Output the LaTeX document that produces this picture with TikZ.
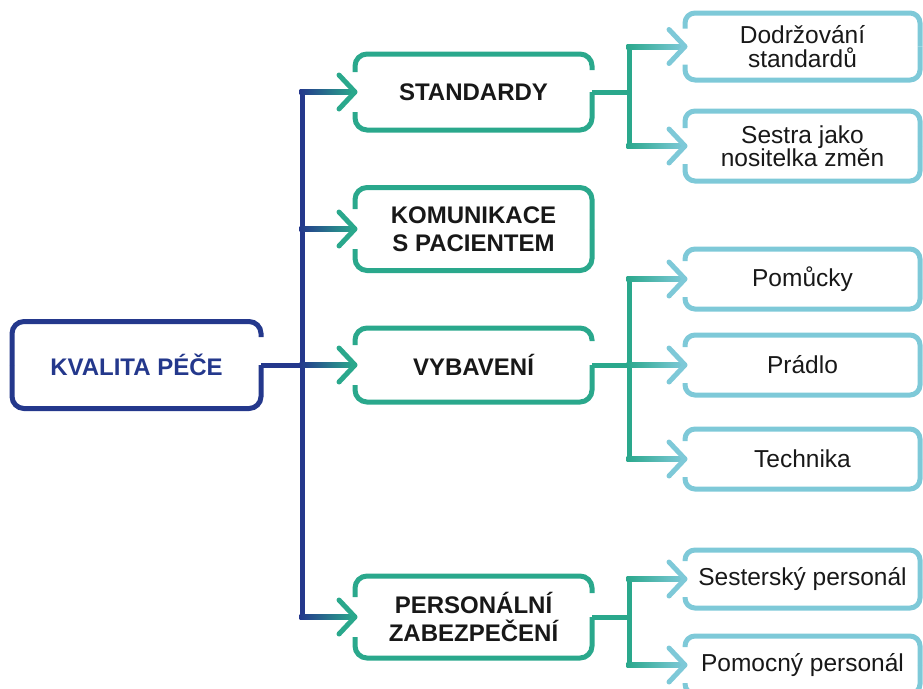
\documentclass[tikz,border=0pt]{standalone}
\usepackage{fontspec}
\setmainfont{Liberation Sans}
\usetikzlibrary{calc}

\definecolor{kqnavy}{RGB}{36,56,140}
\definecolor{kqgreen}{RGB}{42,168,140}
\definecolor{kqlight}{RGB}{126,201,216}
\definecolor{kqtext}{RGB}{24,24,24}

\tikzset{
  boxbase/.style={draw=none, outer sep=0pt, inner sep=0pt, align=center},
  rootbox/.style={boxbase, minimum width=249pt, minimum height=87pt,
    text=kqnavy, font=\fontsize{24}{28}\selectfont\bfseries},
  midbox/.style={boxbase, minimum width=237pt,
    text=kqtext, font=\fontsize{24}{28}\selectfont\bfseries},
  leafbox/.style={boxbase, minimum width=235pt,
    text=kqtext, font=\fontsize{24.5}{23.5}\selectfont},
  rootline/.style={draw=kqnavy, line width=5pt, rounded corners=12pt},
  midline/.style={draw=kqgreen, line width=5pt, rounded corners=12pt},
  leafline/.style={draw=kqlight, line width=5pt, rounded corners=10pt},
  trunk/.style={line width=5pt, line cap=rect},
  chevron/.style={line width=5pt, line cap=round, line join=round},
}

% outline of a box: #1 style, #2 node, #3 half gap on the left side,
% #4 gap on the right side above the outgoing connector
\newcommand\gapbox[4]{%
  \draw[#1] ($(#2.west)+(0,-#3)$) -- (#2.north west) -- (#2.north east) -- ($(#2.east)+(0,-#4)$);
  \draw[#1] ($(#2.west)+(0,#3)$) -- (#2.south west) -- (#2.south east) -- (#2.east);
}
% open arrow head pointing at the west side of a node
\newcommand\chev[2]{%
  \draw[chevron, #1] ($(#2.west)+(-16,-17)$) -- (#2.west) -- ($(#2.west)+(-16,17)$);
}
% colour-blended horizontal stroke from a trunk to a node
\newcommand\blend[4]{%
  \shade[left color=#1, right color=#2] ($(#3 |- #4.west)+(-2.5,-2.5)$) rectangle ($(#4.west)+(-1,2.5)$);
}

\begin{document}
\begin{tikzpicture}[x=1pt, y=-1pt]
\useasboundingbox (0,0) rectangle (923,688);

% boxes
\node[rootbox] (kv) at (136.5,365) {KVALITA PÉČE};

\node[midbox, minimum height=76pt] (std) at (473.5,92) {STANDARDY};
\node[midbox, minimum height=83pt] (kom) at (473.5,229) {KOMUNIKACE\\S PACIENTEM};
\node[midbox, minimum height=74pt] (vyb) at (473.5,365) {VYBAVENÍ};
\node[midbox, minimum height=82pt] (per) at (473.5,617) {PERSONÁLNÍ\\ZABEZPEČENÍ};

\node[leafbox, minimum height=67pt] (dod) at (802.5,46.5) {Dodržování\\standardů};
\node[leafbox, minimum height=70pt] (ses) at (802.5,146) {Sestra jako\\nositelka změn};
\node[leafbox, minimum height=60pt] (pom) at (802.5,279) {Pomůcky};
\node[leafbox, minimum height=60pt] (pra) at (802.5,365) {Prádlo};
\node[leafbox, minimum height=60pt] (tec) at (802.5,459) {Technika};
\node[leafbox, minimum height=58pt] (sep) at (802.5,579) {Sesterský personál};
\node[leafbox, minimum height=58pt] (pmp) at (802.5,665) {Pomocný personál};

% trunk positions
\coordinate (tr) at (302,0);
\coordinate (g1) at (629,0);

% main trunk
\draw[trunk, kqnavy] (tr |- std.west) -- (tr |- per.west);
\draw[line width=5pt, kqnavy] (kv.east) -- (tr |- kv.east);
\blend{kqnavy}{kqgreen}{tr}{std}
\blend{kqnavy}{kqgreen}{tr}{kom}
\blend{kqnavy}{kqgreen}{tr}{vyb}
\blend{kqnavy}{kqgreen}{tr}{per}
\chev{kqgreen}{std}
\chev{kqgreen}{kom}
\chev{kqgreen}{vyb}
\chev{kqgreen}{per}

% branch trunks
\draw[line width=5pt, kqgreen] (std.east) -- (g1 |- std.east);
\draw[trunk, kqgreen] (g1 |- dod.west) -- (g1 |- ses.west);
\draw[line width=5pt, kqgreen] (vyb.east) -- (g1 |- vyb.east);
\draw[trunk, kqgreen] (g1 |- pom.west) -- (g1 |- tec.west);
\draw[line width=5pt, kqgreen] (per.east) -- (g1 |- per.east);
\draw[trunk, kqgreen] (g1 |- sep.west) -- (g1 |- pmp.west);

\foreach \leaf in {dod,ses,pom,pra,tec,sep,pmp}{
  \blend{kqgreen}{kqlight}{g1}{\leaf}
  \chev{kqlight}{\leaf}
}

% outlines
\gapbox{rootline}{kv}{0}{28}
\gapbox{midline}{std}{20}{22}
\gapbox{midline}{kom}{20}{0}
\gapbox{midline}{vyb}{20}{24}
\gapbox{midline}{per}{20}{24}
\foreach \leaf in {dod,ses,pom,pra,tec,sep,pmp}{
  \gapbox{leafline}{\leaf}{18}{0}
}
\end{tikzpicture}
\end{document}
